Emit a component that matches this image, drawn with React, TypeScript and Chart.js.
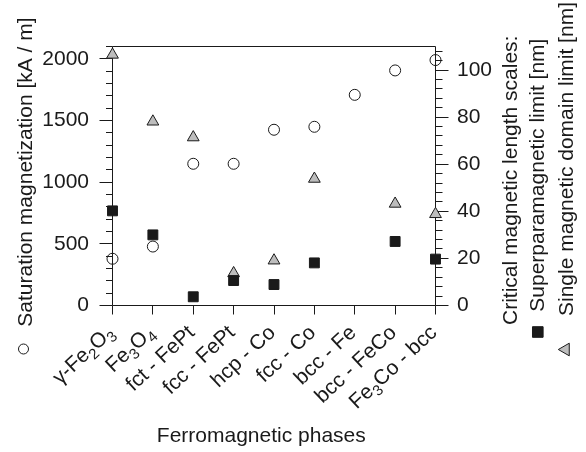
import React, { useEffect, useRef } from 'react';
import { Chart, registerables } from 'chart.js';

Chart.register(...registerables);

// ---- data ----
const phases = ['γ-Fe₂O₃', 'Fe₃O₄', 'fct - FePt', 'fcc - FePt', 'hcp - Co', 'fcc - Co', 'bcc - Fe', 'bcc - FeCo', 'Fe₃Co - bcc'];
const saturationMagnetization = [379, 478, 1149, 1149, 1425, 1449, 1708, 1906, 1990];
const superparamagneticLimit = [40.2, 30.0, 3.7, 10.6, 8.9, 18.1, null, 27.2, 19.7];
const singleDomainLimit = [106.5, 78.1, 71.4, 13.7, 19.1, 53.8, null, 43.2, 38.8];

const leftMajorTicks = [0, 500, 1000, 1500, 2000];
const rightMajorTicks = [0, 20, 40, 60, 80, 100];
const leftMax = 2100;
const rightMax = 110;
const leftMinorStep = 100;
const rightMinorStep = 4;

const xTitle = 'Ferromagnetic phases';
const leftTitle = 'Saturation magnetization [kA / m]';
const rightTitleLines = ['Critical magnetic length scales:', 'Superparamagnetic limit [nm]', 'Single magnetic domain limit [nm]'];

// ---- styling ----
const FONT = '"Liberation Sans", Arial, Helvetica, sans-serif';
const INK = '#1a1a1a';
const TRI_FILL = '#bdbdbd';
const W = 586;
const H = 452;
const AREA = { left: 112.5, right: 435.5, top: 46.5, bottom: 305.5 };

function markerPath(ctx: CanvasRenderingContext2D, kind: string, x: number, y: number, r: number, rotDeg = 0) {
  ctx.beginPath();
  if (kind === 'circle') {
    ctx.arc(x, y, r, 0, Math.PI * 2);
  } else if (kind === 'rect') {
    const s = Math.SQRT1_2 * r;
    ctx.rect(x - s, y - s, 2 * s, 2 * s);
  } else {
    let rad = (rotDeg * Math.PI) / 180;
    ctx.moveTo(x + Math.sin(rad) * r, y - Math.cos(rad) * r);
    rad += (2 * Math.PI) / 3;
    ctx.lineTo(x + Math.sin(rad) * r, y - Math.cos(rad) * r);
    rad += (2 * Math.PI) / 3;
    ctx.lineTo(x + Math.sin(rad) * r, y - Math.cos(rad) * r);
    ctx.closePath();
  }
}

const crisp = (v: number) => Math.round(v - 0.5) + 0.5;

const framePlugin = {
  id: 'frame',
  beforeDatasetsDraw(chart: any) {
    const { ctx, chartArea: a, scales } = chart;
    const yl = scales.y;
    const yr = scales.y2;
    const xs = scales.x;
    ctx.save();
    ctx.strokeStyle = INK;
    ctx.lineWidth = 1;
    ctx.beginPath();
    ctx.moveTo(a.left, a.bottom);
    ctx.lineTo(a.left, a.top);
    ctx.lineTo(a.right, a.top);
    ctx.lineTo(a.right, a.bottom);
    ctx.lineTo(a.left, a.bottom);
    for (let v = 0; v <= leftMax; v += leftMinorStep) {
      const py = crisp(yl.getPixelForValue(v));
      const len = leftMajorTicks.includes(v) ? 13 : 6.5;
      ctx.moveTo(a.left - len, py);
      ctx.lineTo(a.left, py);
    }
    for (let v = 0; v <= rightMax; v += rightMinorStep) {
      const py = crisp(yr.getPixelForValue(v));
      const len = rightMajorTicks.includes(v) ? 13 : 7;
      ctx.moveTo(a.right, py);
      ctx.lineTo(a.right + len, py);
    }
    phases.forEach((_, i) => {
      const px = crisp(xs.getPixelForValue(i));
      ctx.moveTo(px, a.bottom);
      ctx.lineTo(px, a.bottom + 9);
    });
    ctx.stroke();
    ctx.restore();
  },
  afterDraw(chart: any) {
    const { ctx, chartArea: a, scales } = chart;
    const xs = scales.x;
    ctx.save();
    ctx.fillStyle = INK;
    ctx.strokeStyle = INK;

    // x category labels, rotated, with subscripts
    const normal = `21px ${FONT}`;
    const sub = `15px ${FONT}`;
    const subs = '₀₁₂₃₄₅₆₇₈₉';
    const angle = (43 * Math.PI) / 180;
    phases.forEach((label, i) => {
      const segs: { t: string; s: boolean }[] = [];
      for (const ch of label) {
        const k = subs.indexOf(ch);
        const isSub = k >= 0;
        const c = isSub ? String(k) : ch;
        const last = segs[segs.length - 1];
        if (last && last.s === isSub) last.t += c;
        else segs.push({ t: c, s: isSub });
      }
      let total = 0;
      segs.forEach((sg) => {
        ctx.font = sg.s ? sub : normal;
        total += ctx.measureText(sg.t).width;
      });
      const px = xs.getPixelForValue(i) + 2.5;
      const py = a.bottom + 28.5;
      ctx.save();
      ctx.translate(px, py);
      ctx.rotate(-angle);
      ctx.textAlign = 'left';
      ctx.textBaseline = 'alphabetic';
      let cx = -total;
      segs.forEach((sg) => {
        ctx.font = sg.s ? sub : normal;
        ctx.fillText(sg.t, cx, sg.s ? 5 : 0);
        cx += ctx.measureText(sg.t).width;
      });
      ctx.restore();
    });

    // x title
    ctx.font = normal;
    ctx.textAlign = 'center';
    ctx.textBaseline = 'alphabetic';
    ctx.fillText(xTitle, 261.3, 442.3);

    // left title (rotated) with circle marker
    ctx.save();
    ctx.translate(31.7, 326.7);
    ctx.rotate(-Math.PI / 2);
    ctx.textAlign = 'left';
    ctx.fillText(leftTitle, 0, 0);
    ctx.restore();
    ctx.lineWidth = 1;
    markerPath(ctx, 'circle', 23.5, 349, 5);
    ctx.stroke();

    // right titles
    const lines = [
      { x: 516.7, y: 325 },
      { x: 544, y: 311.7 },
      { x: 572.5, y: 316 },
    ];
    rightTitleLines.forEach((t, i) => {
      ctx.save();
      ctx.translate(lines[i].x, lines[i].y);
      ctx.rotate(-Math.PI / 2);
      ctx.textAlign = 'left';
      ctx.fillText(t, 0, 0);
      ctx.restore();
    });
    // legend markers
    markerPath(ctx, 'rect', 537.8, 332, 7.5);
    ctx.fillStyle = INK;
    ctx.fill();
    ctx.stroke();
    markerPath(ctx, 'triangle', 565.6, 349.5, 7.3, -90);
    ctx.fillStyle = TRI_FILL;
    ctx.fill();
    ctx.stroke();
    ctx.restore();
  },
};

export default function App() {
  const ref = useRef<HTMLCanvasElement | null>(null);
  useEffect(() => {
    if (!ref.current) return;
    Chart.defaults.font.family = FONT;
    const chart = new Chart(ref.current, {
      type: 'line',
      data: {
        labels: phases,
        datasets: [
          {
            label: leftTitle,
            data: saturationMagnetization,
            yAxisID: 'y',
            showLine: false,
            pointStyle: 'circle',
            pointRadius: 5.5,
            pointBorderWidth: 1,
            pointBorderColor: INK,
            pointBackgroundColor: 'rgba(0,0,0,0)',
            order: 0,
          },
          {
            label: rightTitleLines[1],
            data: superparamagneticLimit,
            yAxisID: 'y2',
            showLine: false,
            pointStyle: 'rect',
            pointRadius: 7,
            pointBorderWidth: 1,
            pointBorderColor: INK,
            pointBackgroundColor: INK,
            order: 1,
          },
          {
            label: rightTitleLines[2],
            data: singleDomainLimit,
            yAxisID: 'y2',
            showLine: false,
            pointStyle: 'triangle',
            pointRadius: 6.8,
            pointBorderWidth: 1,
            pointBorderColor: INK,
            pointBackgroundColor: TRI_FILL,
            order: 2,
          },
        ],
      },
      options: {
        responsive: false,
        animation: false,
        layout: { padding: { top: AREA.top, left: 0, right: 0, bottom: 0 } },
        plugins: { legend: { display: false }, tooltip: { enabled: false } },
        scales: {
          x: {
            type: 'category',
            offset: false,
            grid: { display: false, drawTicks: false },
            border: { display: false },
            ticks: { display: false },
            afterFit: (s: any) => { s.height = H - AREA.bottom; },
          },
          y: {
            type: 'linear',
            position: 'left',
            min: 0,
            max: leftMax,
            grid: { display: false, drawTicks: false },
            border: { display: false },
            ticks: {
              stepSize: leftMinorStep,
              autoSkip: false,
              includeBounds: false,
              padding: 23.5,
              color: INK,
              font: { size: 21, family: FONT },
              callback: (v: any) => (leftMajorTicks.includes(Number(v)) ? String(v) : ''),
            },
            afterFit: (s: any) => { s.width = AREA.left; },
          },
          y2: {
            type: 'linear',
            position: 'right',
            min: 0,
            max: rightMax,
            grid: { display: false, drawTicks: false },
            border: { display: false },
            ticks: {
              stepSize: rightMinorStep,
              autoSkip: false,
              includeBounds: false,
              padding: 21.5,
              color: INK,
              font: { size: 21, family: FONT },
              callback: (v: any) => (rightMajorTicks.includes(Number(v)) ? String(v) : ''),
            },
            afterFit: (s: any) => { s.width = W - AREA.right; },
          },
        },
      },
      plugins: [framePlugin],
    } as any);
    return () => chart.destroy();
  }, []);
  return (
    <div style={{ position: 'absolute', left: 0, top: 0, width: W, height: H }}>
      <canvas ref={ref} width={W} height={H} style={{ display: 'block' }} />
    </div>
  );
}
